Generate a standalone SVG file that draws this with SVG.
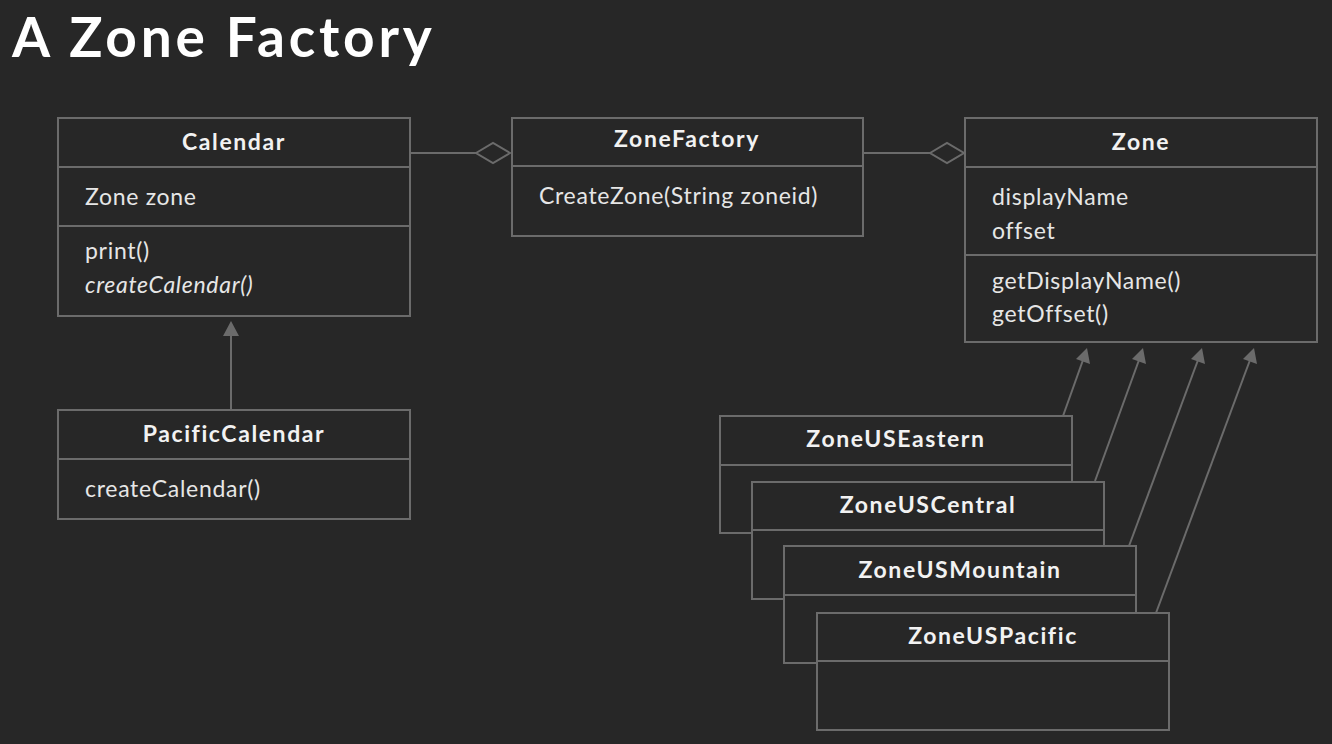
<svg xmlns="http://www.w3.org/2000/svg" width="1332" height="744" viewBox="0 0 1332 744">
<style>
.box{fill:#272727;stroke:#6b6b6b;stroke-width:2}
.div{stroke:#6b6b6b;stroke-width:2}
text{font-variant-ligatures:none}
.h{font-family:Lato,"Open Sans",sans-serif;font-weight:bold;font-size:23px;letter-spacing:1.6px;fill:#f2f2f2;text-anchor:middle}
.t{font-family:Lato,"Open Sans",sans-serif;font-size:23px;letter-spacing:0.7px;fill:#e6e6e6}
.it{font-style:italic}
.c{stroke:#6b6b6b;stroke-width:2;fill:none}
.dia{fill:#272727;stroke:#6b6b6b;stroke-width:2}
.tri{fill:#6b6b6b}
</style>
<rect width="1332" height="744" fill="#272727"/>
<text x="12" y="57" font-family="Lato,sans-serif" font-weight="bold" font-size="55" letter-spacing="3.8" fill="#ffffff">A Zone Factory</text>

<g id="connectors">
<line class="c" x1="410" y1="153" x2="476" y2="153"/>
<polygon class="dia" points="476,153 493,143 510,153 493,163"/>
<line class="c" x1="863" y1="153" x2="930" y2="153"/>
<polygon class="dia" points="930,153 947,143 964,153 947,163"/>
<line class="c" x1="231" y1="410" x2="231" y2="334"/>
<polygon class="tri" points="231,321 239,336 223,336"/>
<line class="c" x1="1063" y1="416" x2="1083" y2="360"/>
<polygon class="tri" points="1087,348 1090,364 1076,359"/>
<line class="c" x1="1095" y1="481" x2="1139" y2="360"/>
<polygon class="tri" points="1143,348 1146,364 1132,359"/>
<line class="c" x1="1129" y1="546" x2="1198" y2="360"/>
<polygon class="tri" points="1202,348 1205,364 1191,359"/>
<line class="c" x1="1156" y1="613" x2="1250" y2="360"/>
<polygon class="tri" points="1254,348 1257,364 1243,359"/>
</g>

<g id="calendar">
<rect class="box" x="58" y="118" width="352" height="198"/>
<line class="div" x1="58" y1="167" x2="410" y2="167"/>
<line class="div" x1="58" y1="226" x2="410" y2="226"/>
<text class="h" x="234" y="150">Calendar</text>
<text class="t" x="85" y="205">Zone zone</text>
<text class="t" x="85" y="259">print()</text>
<text class="t it" x="85" y="293">createCalendar()</text>
</g>

<g id="zonefactory">
<rect class="box" x="512" y="118" width="351" height="118"/>
<line class="div" x1="512" y1="166" x2="863" y2="166"/>
<text class="h" x="687" y="147">ZoneFactory</text>
<text class="t" x="539" y="204">CreateZone(String zoneid)</text>
</g>

<g id="zone">
<rect class="box" x="965" y="118" width="352" height="224"/>
<line class="div" x1="965" y1="167" x2="1317" y2="167"/>
<line class="div" x1="965" y1="255" x2="1317" y2="255"/>
<text class="h" x="1141" y="150">Zone</text>
<text class="t" x="992" y="205">displayName</text>
<text class="t" x="992" y="239">offset</text>
<text class="t" x="992" y="289">getDisplayName()</text>
<text class="t" x="992" y="322">getOffset()</text>
</g>

<g id="pacificcalendar">
<rect class="box" x="58" y="410" width="352" height="109"/>
<line class="div" x1="58" y1="459" x2="410" y2="459"/>
<text class="h" x="234" y="442">PacificCalendar</text>
<text class="t" x="85" y="497">createCalendar()</text>
</g>

<g id="zoneuseastern">
<rect class="box" x="720" y="416" width="352" height="117"/>
<line class="div" x1="720" y1="465" x2="1072" y2="465"/>
<text class="h" x="896" y="447">ZoneUSEastern</text>
</g>

<g id="zoneuscentral">
<rect class="box" x="752" y="482" width="352" height="117"/>
<line class="div" x1="752" y1="530" x2="1104" y2="530"/>
<text class="h" x="928" y="513">ZoneUSCentral</text>
</g>

<g id="zoneusmountain">
<rect class="box" x="784" y="546" width="352" height="117"/>
<line class="div" x1="784" y1="595" x2="1136" y2="595"/>
<text class="h" x="960" y="578">ZoneUSMountain</text>
</g>

<g id="zoneuspacific">
<rect class="box" x="817" y="613" width="352" height="117"/>
<line class="div" x1="817" y1="661" x2="1169" y2="661"/>
<text class="h" x="993" y="644">ZoneUSPacific</text>
</g>
</svg>
